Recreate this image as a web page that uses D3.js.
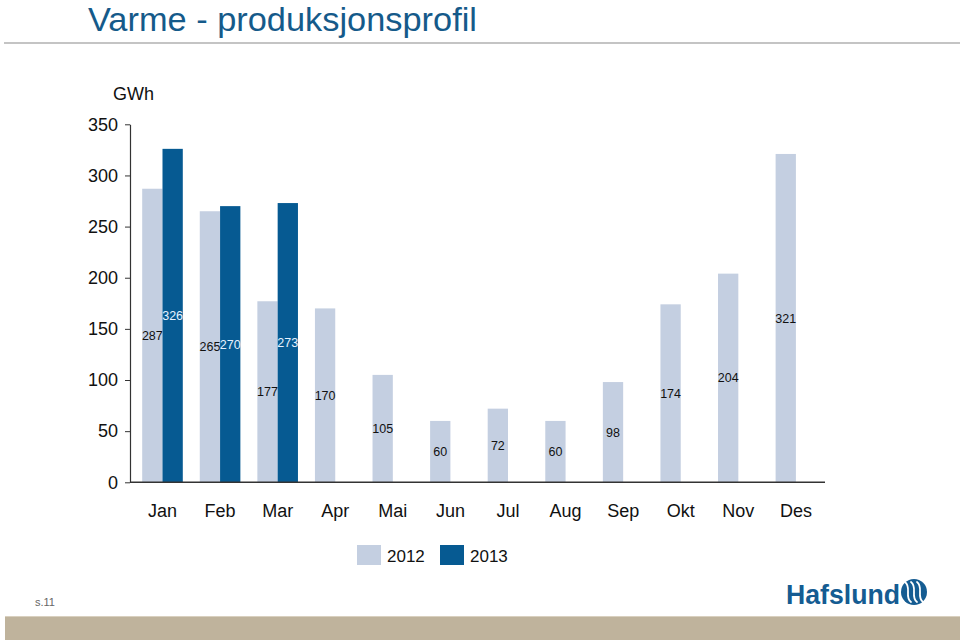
<!DOCTYPE html>
<html>
<head>
<meta charset="utf-8">
<script src="https://cdn.jsdelivr.net/npm/d3@7"></script>
<style>
  html, body { margin: 0; padding: 0; background: #fff; }
  svg { display: block; font-family: "Liberation Sans", Arial, sans-serif; }
</style>
</head>
<body>
<svg id="chart" width="960" height="640"></svg>
<script>
const months = ["Jan","Feb","Mar","Apr","Mai","Jun","Jul","Aug","Sep","Okt","Nov","Des"];
const years = ["2012","2013"];
const values2012 = [287,265,177,170,105,60,72,60,98,174,204,321];
const values2013 = [326,270,273,null,null,null,null,null,null,null,null,null];
const yTicks = [0,50,100,150,200,250,300,350];

const colors = {"2012": "#c4cfe1", "2013": "#065a92"};
const labelColors = {"2012": "#111", "2013": "#e6f2ff"};

const svg = d3.select("#chart");

// Title
svg.append("text").attr("x", 88).attr("y", 31)
  .attr("font-size", 33).attr("fill", "#155a8a")
  .attr("textLength", 389).attr("lengthAdjust", "spacingAndGlyphs")
  .text("Varme - produksjonsprofil");
svg.append("line").attr("x1", 4).attr("x2", 960).attr("y1", 43).attr("y2", 43)
  .attr("stroke", "#c4c4c4").attr("stroke-width", 2);

// Scales
const x0 = d3.scaleBand().domain(months).range([133.7, 824.7]).padding(0);
const bw = x0.bandwidth();
const x1 = d3.scaleBand().domain(years).range([bw/2 - 20.3, bw/2 + 20.3]).padding(0);
const y = d3.scaleLinear().domain([0, 350]).range([482.3, 124.3]);

const data = months.map((m, i) => ({month: m, vals: [
  {year: "2012", v: values2012[i]},
  {year: "2013", v: values2013[i]}
].filter(d => d.v != null)}));

const g = svg.append("g");
const groups = g.selectAll("g.grp").data(data).join("g")
  .attr("class", "grp")
  .attr("transform", d => `translate(${x0(d.month)},0)`);

groups.selectAll("rect").data(d => d.vals).join("rect")
  .attr("x", d => x1(d.year))
  .attr("width", x1.bandwidth())
  .attr("y", d => y(d.v))
  .attr("height", d => y(0) - y(d.v))
  .attr("fill", d => colors[d.year]);

groups.selectAll("text").data(d => d.vals).join("text")
  .attr("x", d => x1(d.year) + x1.bandwidth()/2)
  .attr("y", d => (y(d.v) + y(0)) / 2)
  .attr("dy", "0.35em")
  .attr("text-anchor", "middle")
  .attr("font-size", 12.5)
  .attr("fill", d => labelColors[d.year])
  .text(d => d.v);

// Y axis
const yAxis = d3.axisLeft(y).tickValues(yTicks).tickSize(5).tickPadding(7).tickSizeOuter(0);
const ya = svg.append("g").attr("transform", "translate(130,0)").call(yAxis);
ya.select(".domain").attr("stroke", "#333").attr("stroke-width", 1.2);
ya.selectAll(".tick line").attr("stroke", "#333");
ya.selectAll(".tick text").attr("font-size", 18).attr("fill", "#111")
  .attr("font-family", "Liberation Sans, Arial, sans-serif");

svg.append("text").attr("x", 113).attr("y", 100)
  .attr("font-size", 18).attr("fill", "#111").text("GWh");

// X axis
const xAxis = d3.axisBottom(x0).tickSize(0).tickPadding(22).tickSizeOuter(0);
const xa = svg.append("g").attr("transform", `translate(0,${y(0)})`).call(xAxis);
xa.select(".domain").remove();
svg.append("line").attr("x1", 130).attr("x2", 825).attr("y1", y(0)).attr("y2", y(0))
  .attr("stroke", "#333").attr("stroke-width", 1.4);
xa.selectAll(".tick text").attr("font-size", 18).attr("fill", "#111")
  .attr("font-family", "Liberation Sans, Arial, sans-serif");

// Legend
const legend = svg.append("g").attr("transform", "translate(357,545)");
const lg = legend.selectAll("g").data(years).join("g")
  .attr("transform", (d, i) => `translate(${i * 83},0)`);
lg.append("rect").attr("width", 24).attr("height", 20).attr("fill", d => colors[d]);
lg.append("text").attr("x", 30).attr("y", 17).attr("font-size", 17).attr("fill", "#111").text(d => d);

// Footer
svg.append("text").attr("x", 35).attr("y", 606).attr("font-size", 11).attr("fill", "#666").text("s.11");
svg.append("rect").attr("x", 5).attr("y", 616).attr("width", 955).attr("height", 24).attr("fill", "#bfb39c");
svg.append("line").attr("x1", 5).attr("x2", 960).attr("y1", 616.5).attr("y2", 616.5).attr("stroke", "#d9d0bf");

// Logo
const logo = svg.append("g");
logo.append("text").attr("x", 786).attr("y", 604)
  .attr("font-size", 28).attr("font-weight", "bold").attr("fill", "#155c92")
  .attr("textLength", 114).attr("lengthAdjust", "spacingAndGlyphs")
  .text("Hafslund");
logo.append("circle").attr("cx", 914).attr("cy", 592).attr("r", 13).attr("fill", "#155c92");
[-6, 0, 6].forEach(dx => {
  const cx = 914 + dx;
  logo.append("path")
    .attr("d", `M ${cx - 3} 582 C ${cx + 4} 587, ${cx - 4} 597, ${cx + 3} 602`)
    .attr("fill", "none").attr("stroke", "#fff").attr("stroke-width", 1.8)
    .attr("stroke-linecap", "round");
});
</script>
</body>
</html>
